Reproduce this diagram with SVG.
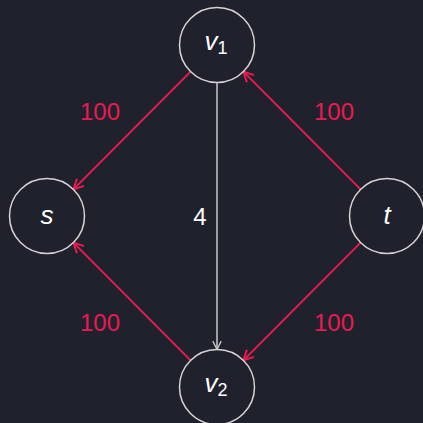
<svg xmlns="http://www.w3.org/2000/svg" width="423" height="423" viewBox="0 0 423 423">
<style>
.node{fill:none;stroke:#d4d4d4;stroke-width:1.5}
.lbl{font-family:"Liberation Sans",Arial,sans-serif;font-style:italic;fill:#ffffff;text-anchor:middle}
.red{stroke:#ea1a51;stroke-width:2;fill:none}
.gray{stroke:#c8c8c8;stroke-width:1.5;fill:none}
.w{font-family:"Liberation Sans",Arial,sans-serif;font-size:24px;text-anchor:middle}
</style>
<defs>
<marker id="ar" viewBox="0 0 12 12" refX="11" refY="6" markerWidth="12" markerHeight="12" markerUnits="userSpaceOnUse" orient="auto">
<path d="M1,1 L11,6 L1,11" fill="none" stroke="#ea1a51" stroke-width="2"/>
</marker>
<marker id="ag" viewBox="0 0 12 12" refX="11" refY="6" markerWidth="10" markerHeight="10" markerUnits="userSpaceOnUse" orient="auto">
<path d="M1,1 L11,6 L1,11" fill="none" stroke="#c8c8c8" stroke-width="1.6"/>
</marker>
</defs>
<rect width="423" height="423" fill="#1f222c"/>
<g id="connectors">
<line class="red" x1="190.6" y1="71.6" x2="73.4" y2="189.4" marker-end="url(#ar)"/>
<line class="red" x1="360.6" y1="189.4" x2="243.4" y2="71.6" marker-end="url(#ar)"/>
<line class="red" x1="190.6" y1="360.4" x2="73.4" y2="242.6" marker-end="url(#ar)"/>
<line class="red" x1="360.6" y1="242.6" x2="243.4" y2="360.4" marker-end="url(#ar)"/>
<line class="gray" x1="217" y1="82.5" x2="217" y2="349.5" marker-end="url(#ag)"/>
<text class="w" x="100" y="119.5" fill="#ea1a51">100</text>
<text class="w" x="334" y="119.5" fill="#ea1a51">100</text>
<text class="w" x="100" y="330.5" fill="#ea1a51">100</text>
<text class="w" x="334" y="330.5" fill="#ea1a51">100</text>
<text class="w" x="200" y="225" fill="#ffffff" font-size="22">4</text>
</g>
<g id="v1">
<circle class="node" cx="217" cy="45" r="37.5"/>
<text class="lbl" x="216" y="50" font-size="26">v<tspan font-style="normal" font-size="18" dy="4">1</tspan></text>
</g>
<g id="s">
<circle class="node" cx="47" cy="216" r="37.5"/>
<text class="lbl" x="47" y="224" font-size="26">s</text>
</g>
<g id="t">
<circle class="node" cx="387" cy="216" r="37.5"/>
<text class="lbl" x="387" y="224" font-size="26">t</text>
</g>
<g id="v2">
<circle class="node" cx="217" cy="387" r="37.5"/>
<text class="lbl" x="216" y="392" font-size="26">v<tspan font-style="normal" font-size="18" dy="4">2</tspan></text>
</g>
</svg>
